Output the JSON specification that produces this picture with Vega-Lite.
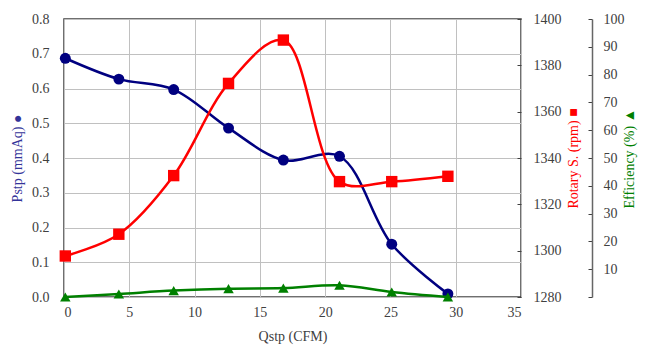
{
  "$schema": "https://vega.github.io/schema/vega-lite/v6.json",
  "width": 457,
  "height": 278,
  "autosize": {"type": "none"},
  "padding": {"left": 64, "top": 19, "right": 126, "bottom": 59},
  "background": "white",
  "config": {
    "font": "Liberation Serif",
    "view": {"stroke": "#404040", "strokeWidth": 1.5},
    "axis": {
      "labelFont": "Liberation Serif",
      "titleFont": "Liberation Serif",
      "labelFontSize": 14,
      "titleFontSize": 14,
      "titleFontWeight": "normal",
      "labelColor": "#404040",
      "titleColor": "#404040",
      "gridColor": "#c0c0c0",
      "gridWidth": 1
    }
  },
  "data": {
    "values": [
      {"Q": 0.1, "P": 0.687, "R": 1297.7, "E": 0.0},
      {"Q": 4.2, "P": 0.627, "R": 1307.1, "E": 1.1},
      {"Q": 8.4, "P": 0.597, "R": 1332.4, "E": 2.3},
      {"Q": 12.6, "P": 0.486, "R": 1372.2, "E": 3.0},
      {"Q": 16.8, "P": 0.394, "R": 1390.9, "E": 3.2},
      {"Q": 21.1, "P": 0.405, "R": 1329.8, "E": 4.2},
      {"Q": 25.1, "P": 0.152, "R": 1329.8, "E": 1.8},
      {"Q": 29.4, "P": 0.009, "R": 1332.1, "E": 0.0}
    ]
  },
  "encoding": {
    "x": {
      "field": "Q",
      "type": "quantitative",
      "scale": {"domain": [0, 35], "nice": false},
      "axis": {
        "title": "Qstp (CFM)",
        "labelFont": "Liberation Serif",
        "titleFont": "Liberation Serif",
        "values": [0, 5, 10, 15, 20, 25, 30, 35],
        "grid": true,
        "ticks": false,
        "domain": false,
        "labelPadding": 8,
        "titlePadding": 10
      }
    }
  },
  "layer": [
    {
      "mark": {
        "type": "line",
        "color": "#000080",
        "strokeWidth": 2.5,
        "interpolate": "catmull-rom",
        "point": {"filled": true, "shape": "circle", "size": 120, "color": "#000080", "opacity": 1}
      },
      "encoding": {
        "y": {
          "field": "P",
          "type": "quantitative",
          "scale": {"domain": [0, 0.8], "nice": false},
          "axis": {
            "orient": "left",
            "title": "Pstp (mmAq) ●",
            "labelFont": "Liberation Serif",
            "titleFont": "Liberation Serif",
            "titleColor": "#333399",
            "values": [0, 0.1, 0.2, 0.3, 0.4, 0.5, 0.6, 0.7, 0.8],
            "format": ".1f",
            "grid": true,
            "ticks": false,
            "domain": false,
            "labelPadding": 15,
            "titlePadding": 7
          }
        }
      }
    },
    {
      "mark": {
        "type": "line",
        "color": "#ff0000",
        "strokeWidth": 2.5,
        "interpolate": "catmull-rom",
        "point": {"filled": true, "shape": "square", "size": 130, "color": "#ff0000", "opacity": 1}
      },
      "encoding": {
        "y": {
          "field": "R",
          "type": "quantitative",
          "scale": {"domain": [1280, 1400], "nice": false},
          "axis": {
            "orient": "right",
            "title": "Rotary S. (rpm) ■",
            "labelFont": "Liberation Serif",
            "titleFont": "Liberation Serif",
            "titleColor": "#ff0000",
            "titleAngle": 270,
            "titleBaseline": "top",
            "format": "d",
            "values": [1280, 1300, 1320, 1340, 1360, 1380, 1400],
            "grid": false,
            "ticks": true,
            "tickSize": -4,
            "tickColor": "#404040",
            "domain": false,
            "labelPadding": 16,
            "titlePadding": 5
          }
        }
      }
    },
    {
      "mark": {
        "type": "line",
        "color": "#008000",
        "strokeWidth": 2.5,
        "interpolate": "catmull-rom",
        "point": {"filled": true, "shape": "triangle-up", "size": 110, "color": "#008000", "opacity": 1}
      },
      "encoding": {
        "y": {
          "field": "E",
          "type": "quantitative",
          "scale": {"domain": [0, 100], "nice": false},
          "axis": {
            "orient": "right",
            "offset": 71,
            "title": "Efficiency (%) ▲",
            "labelFont": "Liberation Serif",
            "titleFont": "Liberation Serif",
            "titleColor": "#008000",
            "titleAngle": 270,
            "titleBaseline": "top",
            "values": [0, 10, 20, 30, 40, 50, 60, 70, 80, 90, 100],
            "labelExpr": "datum.value == 0 ? '' : datum.label",
            "grid": false,
            "ticks": true,
            "tickSize": -4,
            "tickColor": "#404040",
            "domain": true,
            "domainColor": "#666666",
            "domainWidth": 1.5,
            "labelPadding": 15,
            "titlePadding": -2
          }
        }
      }
    }
  ],
  "resolve": {"scale": {"y": "independent"}}
}
